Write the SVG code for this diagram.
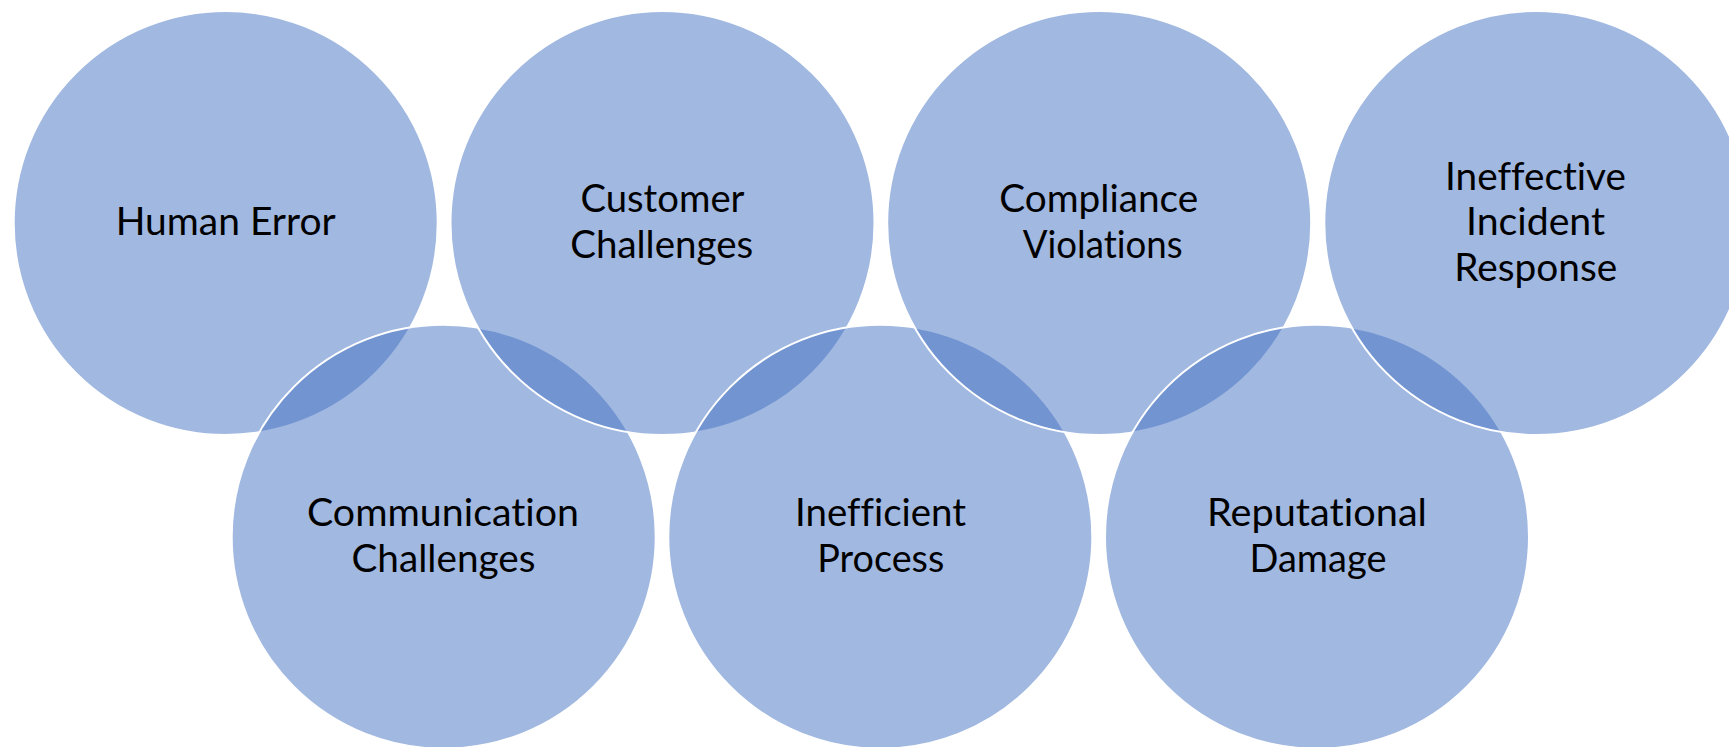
<svg xmlns="http://www.w3.org/2000/svg" width="1729" height="747" viewBox="0 0 1729 747">
<style>
.c{fill:#4472C4;fill-opacity:0.5;stroke:#FFFFFF;stroke-width:2}
.t{font-family:Lato,"Open Sans","Liberation Sans",sans-serif;font-size:38.5px;fill:#000000;text-anchor:middle;font-variant-ligatures:none}
</style>
<rect width="1729" height="747" fill="#FFFFFF"/>
<g id="n1"><circle class="c" cx="225.7" cy="223" r="212"/><text class="t" x="225.7" y="235" textLength="220" lengthAdjust="spacingAndGlyphs">Human Error</text></g>
<g id="n2"><circle class="c" cx="443.7" cy="536.8" r="212"/><text class="t" x="443" y="526" textLength="272" lengthAdjust="spacingAndGlyphs">Communication</text><text class="t" x="443.5" y="571.5" textLength="184" lengthAdjust="spacingAndGlyphs">Challenges</text></g>
<g id="n3"><circle class="c" cx="662.5" cy="223" r="212"/><text class="t" x="662.5" y="212.3" textLength="164" lengthAdjust="spacingAndGlyphs">Customer</text><text class="t" x="661.7" y="257.8" textLength="183" lengthAdjust="spacingAndGlyphs">Challenges</text></g>
<g id="n4"><circle class="c" cx="880.3" cy="536.8" r="212"/><text class="t" x="880.5" y="526" textLength="171" lengthAdjust="spacingAndGlyphs">Inefficient</text><text class="t" x="880.8" y="571.5" textLength="127" lengthAdjust="spacingAndGlyphs">Process</text></g>
<g id="n5"><circle class="c" cx="1099.2" cy="223" r="212"/><text class="t" x="1098.7" y="212.3" textLength="199" lengthAdjust="spacingAndGlyphs">Compliance</text><text class="t" x="1102.7" y="257.8" textLength="160" lengthAdjust="spacingAndGlyphs">Violations</text></g>
<g id="n6"><circle class="c" cx="1317" cy="536.8" r="212"/><text class="t" x="1317" y="526" textLength="220" lengthAdjust="spacingAndGlyphs">Reputational</text><text class="t" x="1318" y="571.5" textLength="137" lengthAdjust="spacingAndGlyphs">Damage</text></g>
<g id="n7"><circle class="c" cx="1536.3" cy="223" r="212"/><text class="t" x="1535.5" y="189.5" textLength="181" lengthAdjust="spacingAndGlyphs">Ineffective</text><text class="t" x="1535.5" y="235" textLength="139" lengthAdjust="spacingAndGlyphs">Incident</text><text class="t" x="1535.8" y="280.5" textLength="163" lengthAdjust="spacingAndGlyphs">Response</text></g>
<g id="connectors"></g>
</svg>
